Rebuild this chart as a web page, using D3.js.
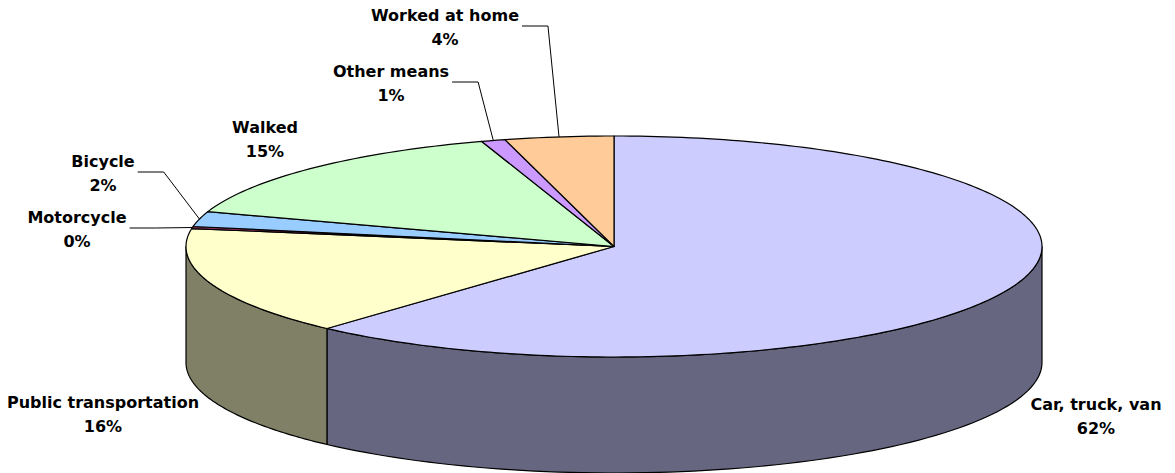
<!DOCTYPE html>
<html>
<head>
<meta charset="utf-8">
<script src="https://cdn.jsdelivr.net/npm/d3@7"></script>
<style>
body { margin: 0; background: #fff; }
text { font-family: "DejaVu Sans", Verdana, sans-serif; font-weight: bold; font-size: 16px; fill: #000; }
</style>
</head>
<body>
<div id="view"></div>
<script>
// means of transportation to work, share of workers (%)
var categories = ["Car, truck, van", "Public transportation", "Motorcycle", "Bicycle", "Walked", "Other means", "Worked at home"];
var shares = [61.7, 15.9, 0.3, 2.2, 14.9, 0.9, 4.1];
var percentLabels = ["62%", "16%", "0%", "2%", "15%", "1%", "4%"];
var topColors = ["#CCCCFF", "#FFFFCC", "#993366", "#99CCFF", "#CCFFCC", "#CC99FF", "#FFCC99"];

// where each label sits (centre x, first baseline) and whether it gets a leader line
var labelSpots = [
	{x: 1096, y: 410, leader: false},
	{x: 103, y: 408, leader: false},
	{x: 77, y: 223, leader: true},
	{x: 103, y: 167, leader: true},
	{x: 265, y: 133, leader: false},
	{x: 391, y: 77, leader: true},
	{x: 445, y: 21, leader: true}
];

var W = 1175, H = 473;
var cx = 614, cy = 246.5, rx = 428, ry = 110.5, depth = 116;

var svg = d3.select("#view")
	.append("svg")
	.attr("width", W)
	.attr("height", H);

// d3.pie measures angles clockwise from 12 o'clock, like Excel
var arcs = d3.pie().sort(null).value(function(d){ return d; })(shares);

function pt(a, dy){
	return [cx + rx * Math.sin(a), cy - ry * Math.cos(a) + (dy || 0)];
}

function sideColor(c){
	var r = d3.rgb(c);
	return d3.rgb(r.r / 2, r.g / 2, r.b / 2).formatHex();
}

// outer wall, only the front half (90deg..270deg) can be seen
function wallPath(a0, a1){
	a0 = Math.max(a0, Math.PI / 2);
	a1 = Math.min(a1, 3 * Math.PI / 2);
	if (a1 <= a0) return null;
	var n = 80, top = [], bot = [];
	for (var i = 0; i <= n; i++){
		var a = a0 + (a1 - a0) * i / n;
		top.push(pt(a));
		bot.push(pt(a, depth));
	}
	return d3.line()(top.concat(bot.reverse())) + "Z";
}

function topPath(a0, a1){
	var n = Math.max(2, Math.ceil((a1 - a0) / 0.02)), p = [[cx, cy]];
	for (var i = 0; i <= n; i++) p.push(pt(a0 + (a1 - a0) * i / n));
	return d3.line()(p) + "Z";
}

svg.append("g").selectAll("path")
	.data(arcs.filter(function(d){ return wallPath(d.startAngle, d.endAngle); }))
   .enter().append("path")
	.attr("d", function(d){ return wallPath(d.startAngle, d.endAngle); })
	.style("fill", function(d){ return sideColor(topColors[d.index]); })
	.style("stroke", "#000")
	.style("stroke-width", 1.2)
	.style("stroke-linejoin", "round");

svg.append("g").selectAll("path")
	.data(arcs)
   .enter().append("path")
	.attr("d", function(d){ return topPath(d.startAngle, d.endAngle); })
	.style("fill", function(d){ return topColors[d.index]; })
	.style("stroke", "#000")
	.style("stroke-width", 1.2)
	.style("stroke-linejoin", "round");

// labels
var lab = svg.append("g").selectAll("g")
	.data(arcs)
   .enter().append("g");

lab.append("text")
	.attr("x", function(d){ return labelSpots[d.index].x; })
	.attr("y", function(d){ return labelSpots[d.index].y; })
	.attr("text-anchor", "middle")
	.text(function(d){ return categories[d.index]; });

lab.append("text")
	.attr("x", function(d){ return labelSpots[d.index].x; })
	.attr("y", function(d){ return labelSpots[d.index].y + 24; })
	.attr("text-anchor", "middle")
	.text(function(d){ return percentLabels[d.index]; });

// leader lines: from right side of the label to the middle of the slice rim
lab.filter(function(d){ return labelSpots[d.index].leader; })
	.each(function(d){
		var g = d3.select(this);
		var w = g.select("text").node().getComputedTextLength();
		var s = labelSpots[d.index];
		var x0 = s.x + w / 2 + 3, y0 = s.y + 5;
		var end = pt((d.startAngle + d.endAngle) / 2);
		g.append("path")
			.attr("d", d3.line()([[x0, y0], [x0 + 26, y0], end]))
			.style("fill", "none")
			.style("stroke", "#000")
			.style("stroke-width", 1);
	});
</script>
</body>
</html>
